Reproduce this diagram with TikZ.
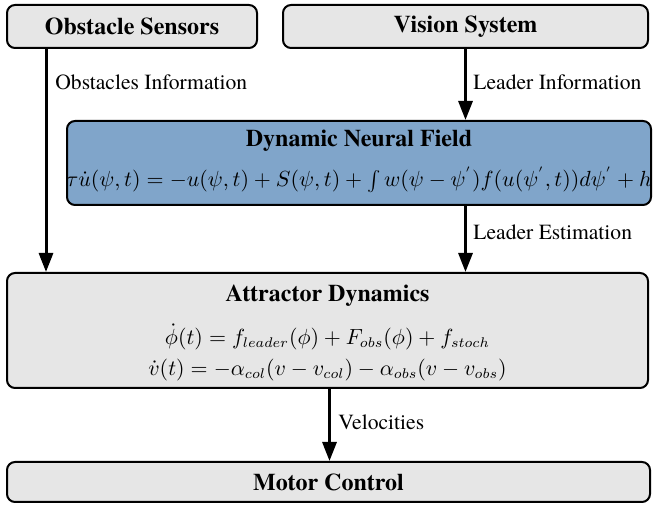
\documentclass[tikz,border=0pt]{standalone}
\usepackage{fontspec}
\setmainfont{texgyretermes}[Extension=.otf, UprightFont=*-regular, BoldFont=*-bold,
  ItalicFont=*-italic, BoldItalicFont=*-bolditalic]
\usetikzlibrary{arrows.meta,calc}

\definecolor{boxgray}{RGB}{230,230,230}
\definecolor{fieldblue}{RGB}{128,165,202}

\tikzset{
  block/.style={draw=black, line width=1pt, rounded corners=4pt, fill=boxgray,
    inner sep=0pt, anchor=center},
  fieldblock/.style={block, fill=fieldblue},
  title/.style={font=\fontsize{12}{14}\selectfont\bfseries, inner sep=0pt},
  formula/.style={font=\fontsize{10.7}{13}\selectfont, inner sep=0pt},
  flowlabel/.style={font=\fontsize{10.8}{13}\selectfont, inner sep=0pt, anchor=west},
  flow/.style={line width=1.5pt, -{Triangle[length=9.5pt,width=7pt]}}
}

\begin{document}
\begin{tikzpicture}[x=0.5pt, y=-0.5pt]
  \useasboundingbox (0,0) rectangle (653,506);

  % sensing blocks
  \node[block, minimum width=125pt, minimum height=21.5pt, title] (sensors) at (132,26.5) {Obstacle Sensors};
  \node[block, minimum width=182.5pt, minimum height=21.5pt, title] (vision) at (465.5,26.5) {Vision System};

  % dynamic neural field
  \node[fieldblock, minimum width=292pt, minimum height=42pt] (dnf) at (359,163) {};
  \node[title] (dnftitle) at (359,141) {Dynamic Neural Field};
  \node[formula] (dnfeq) at (359,180)
    {$\tau\dot{u}(\psi,t)=-u(\psi,t)+S(\psi,t)+\int w(\psi-\psi^{'})f(u(\psi^{'},t))d\psi^{'}+h$};

  % attractor dynamics
  \node[block, minimum width=320.5pt, minimum height=57.5pt] (attr) at (327.5,330.5) {};
  \node[title] (attrtitle) at (327.5,296) {Attractor Dynamics};
  \node[formula] (attreqa) at (327.5,337)
    {$\dot{\phi}(t)=f_{leader}(\phi)+F_{obs}(\phi)+f_{stoch}$};
  \node[formula] (attreqb) at (327.5,370)
    {$\dot{v}(t)=-\alpha_{col}(v-v_{col})-\alpha_{obs}(v-v_{obs})$};

  % motor control
  \node[block, minimum width=321.5pt, minimum height=20pt, title] (motor) at (328.5,482) {Motor Control};

  % information flow
  \draw[flow] ([xshift=20pt]sensors.south west) -- ([xshift=20pt]sensors.south west |- attr.north);
  \node[flowlabel] (obslabel) at (55,82) {Obstacles Information};

  \draw[flow] (vision.south) -- (vision.south |- dnf.north);
  \node[flowlabel] (leadlabel) at (473,82) {Leader Information};

  \draw[flow] (vision.south |- dnf.south) -- (vision.south |- attr.north);
  \node[flowlabel] (estlabel) at (473,232) {Leader Estimation};

  \draw[flow] ([xshift=1pt]attr.south) -- ([xshift=1pt]attr.south |- motor.north);
  \node[flowlabel] (vellabel) at (338,422) {Velocities};
\end{tikzpicture}
\end{document}
